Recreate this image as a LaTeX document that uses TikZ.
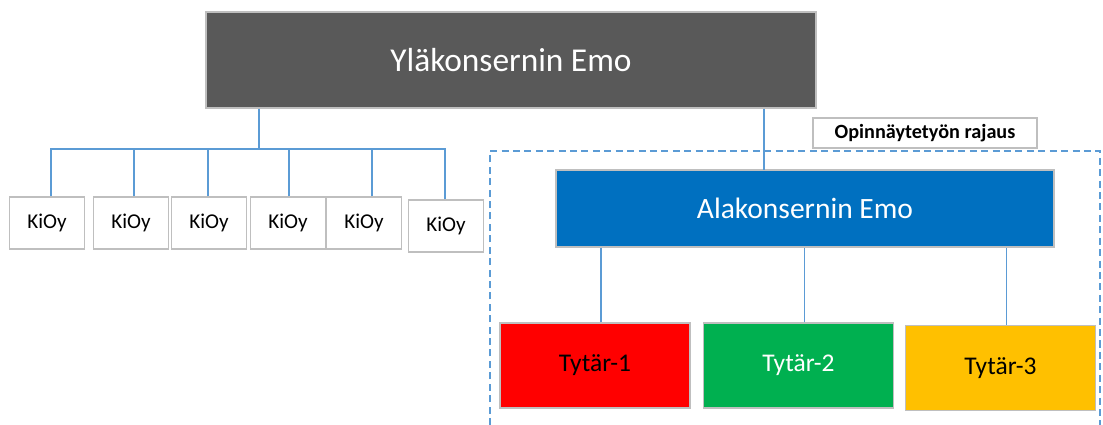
\documentclass[tikz,border=0pt]{standalone}
\usepackage{fontspec}
\setmainfont{Carlito}
\usetikzlibrary{positioning}
\definecolor{emogray}{HTML}{595959}
\definecolor{emoblue}{HTML}{0070C0}
\definecolor{linkblue}{HTML}{5B9BD5}
\definecolor{boxgray}{HTML}{BFBFBF}
\definecolor{tred}{HTML}{FF0000}
\definecolor{tgreen}{HTML}{00B050}
\definecolor{tyellow}{HTML}{FFC000}
\tikzset
{
    boxnode/.style = {draw=boxgray, line width=0.8pt, align=center, inner sep=0pt},
    ylanode/.style = {boxnode, fill=emogray, text=white, minimum width=12.2cm, minimum height=1.92cm, font=\fontsize{19}{22}\selectfont},
    alanode/.style = {boxnode, fill=emoblue, text=white, minimum width=9.96cm, minimum height=1.54cm, font=\fontsize{16.8}{20}\selectfont},
    kioynode/.style = {boxnode, fill=white, minimum width=1.5cm, minimum height=1.04cm, font=\fontsize{12}{14}\selectfont},
    tytarnode/.style = {boxnode, minimum width=3.8cm, minimum height=1.7cm, font=\fontsize{14.5}{17}\selectfont},
    rajausnode/.style = {boxnode, fill=white, minimum width=4.48cm, minimum height=0.6cm, font=\bfseries\fontsize{11.5}{13}\selectfont},
    link/.style = {draw=linkblue, line width=0.6pt}
}
\begin{document}
\begin{tikzpicture}[x=0.02cm, y=-0.02cm]
    \useasboundingbox (0,0) rectangle (1103,425);
    % ------------------------------------------------ rajaus
    \draw [linkblue, line width=0.6pt, dash pattern=on 4pt off 2.5pt] (490,425) -- (490,151) -- (1100,151) -- (1100,425);
    \node [rajausnode] (rajaus) at (925,133) {Opinnäytetyön rajaus};
    % ------------------------------------------------ emot
    \node [ylanode] (yla) at (511,60) {Yläkonsernin Emo};
    \node [alanode] (ala) at (805,208.5) {Alakonsernin Emo};
    % ------------------------------------------------ kiinteistöosakeyhtiöt
    \node [kioynode] (k1) at (47,223) {KiOy};
    \node [kioynode] (k2) at (131,223) {KiOy};
    \node [kioynode] (k3) at (209,223) {KiOy};
    \node [kioynode] (k4) at (288,223) {KiOy};
    \node [kioynode] (k5) at (364,223) {KiOy};
    \node [kioynode] (k6) at (446,226) {KiOy};
    % ------------------------------------------------ tyttäret
    \node [tytarnode, fill=tred] (t1) at (595,365.5) {Tytär-1};
    \node [tytarnode, fill=tgreen, text=white] (t2) at (798.5,365.5) {Tytär-2};
    \node [tytarnode, fill=tyellow] (t3) at (1000.5,368) {Tytär-3};
    % ------------------------------------------------ yhteydet
    \coordinate (bus) at (259,149);
    \coordinate (alatop) at (764,170);
    \draw [link] (bus |- yla.south) -- (bus);
    \foreach \k/\dx in {k1/4,k2/3,k3/-1,k4/1,k5/8,k6/-1}
        \draw [link] ([xshift=\dx*0.02cm]\k.north) |- (bus);
    \draw [link] (alatop |- yla.south) -- (alatop);
    \foreach \t in {t1,t2,t3}
        \draw [link] ([xshift=0.12cm]\t.north) -- ([xshift=0.12cm]\t.north |- ala.south);
\end{tikzpicture}
\end{document}
